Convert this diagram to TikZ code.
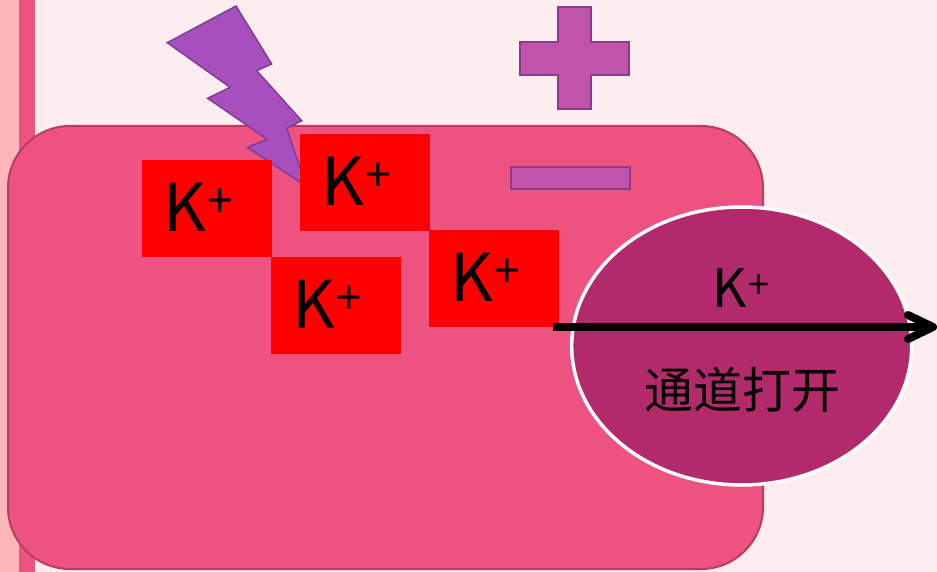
\documentclass[tikz,border=0pt]{standalone}
\usepackage{fontspec}
\setmainfont{Noto Sans CJK SC}
\usetikzlibrary{shapes.geometric,calc}
\definecolor{bgpink}{HTML}{FEEDEE}
\definecolor{stripA}{HTML}{FFB6BA}
\definecolor{cellfill}{HTML}{EE5280}
\definecolor{celledge}{HTML}{B63C61}
\definecolor{boltfill}{HTML}{A64FBD}
\definecolor{boltedge}{HTML}{7F3D99}
\definecolor{signfill}{HTML}{C054AC}
\definecolor{signedge}{HTML}{8E3B86}
\definecolor{channelfill}{HTML}{B22A6B}
\newcommand{\ionbig}{{\fontsize{66}{66}\selectfont K\hspace{1pt}\raisebox{14pt}{\fontsize{46}{46}\selectfont +}}}
\newcommand{\ionsmall}{{\fontsize{53}{53}\selectfont K\hspace{1pt}\raisebox{9pt}{\fontsize{38}{38}\selectfont +}}}
\begin{document}
\begin{tikzpicture}[x=1pt,y=-1pt,
  ionbox/.style={rectangle, fill=red, minimum width=130pt, minimum height=97pt, inner sep=0pt},
  iontext/.style={inner sep=0pt, text=black},
  sign/.style={fill=signfill, draw=signedge, line width=2pt}]
% page
\useasboundingbox (0,0) rectangle (937,572);
\fill[bgpink] (0,0) rectangle (937,572);
\fill[stripA] (0,0) rectangle (19,572);
\fill[cellfill] (19,0) rectangle (35,572);
% cell body
\draw[fill=cellfill, draw=celledge, line width=2pt, rounded corners=62pt] (8,126) rectangle (763,569);
% stimulus bolt
\draw[fill=boltfill, draw=boltedge, line width=1.5pt, line join=miter]
  (236,6) -- (271.7,64) -- (256.7,70.7) -- (301.7,120.7) -- (286.7,128.3)
  -- (306,186) -- (247.3,147.3) -- (267.3,139.3) -- (207.7,98.3)
  -- (230,87.3) -- (167.3,42.7) -- cycle;
% potassium ions
\node[ionbox] (ion1) at (207,208.3) {};
\node[ionbox] (ion2) at (365,182.3) {};
\node[ionbox] (ion3) at (336,305) {};
\node[ionbox] (ion4) at (494,278.3) {};
\foreach \n in {1,2,3,4}{
  \node[iontext] (ion\n label) at ([xshift=-9pt,yshift=1pt]ion\n.center) {\ionbig};
}
% charge signs
\draw[sign] (557.7,7.3) -- (591,7.3) -- (591,41.7) -- (628.7,41.7) -- (628.7,75)
  -- (591,75) -- (591,109) -- (557.7,109) -- (557.7,75) -- (520,75)
  -- (520,41.7) -- (557.7,41.7) -- cycle;
\draw[sign] (510.5,167.5) rectangle (629.5,189.5);
% open channel
\node[ellipse, fill=channelfill, draw=white, line width=3.5pt, minimum width=340pt, minimum height=278pt, inner sep=0pt] (channel) at (741.7,346) {};
\node[iontext, anchor=base] (channelion) at (741,307) {\ionsmall};
\node[iontext, font=\fontsize{49}{49}\selectfont] (channeltext) at (742,390) {通道打开};
% outward flow
\coordinate (flowstart) at (553,327);
\coordinate (flowtip) at (933,327);
\draw[line width=8pt] (flowstart) -- (flowtip);
\draw[line width=8pt, line cap=round, line join=round]
  ($(flowtip)+(-25,-12)$) -- (flowtip) -- ($(flowtip)+(-25,12)$);
\end{tikzpicture}
\end{document}
